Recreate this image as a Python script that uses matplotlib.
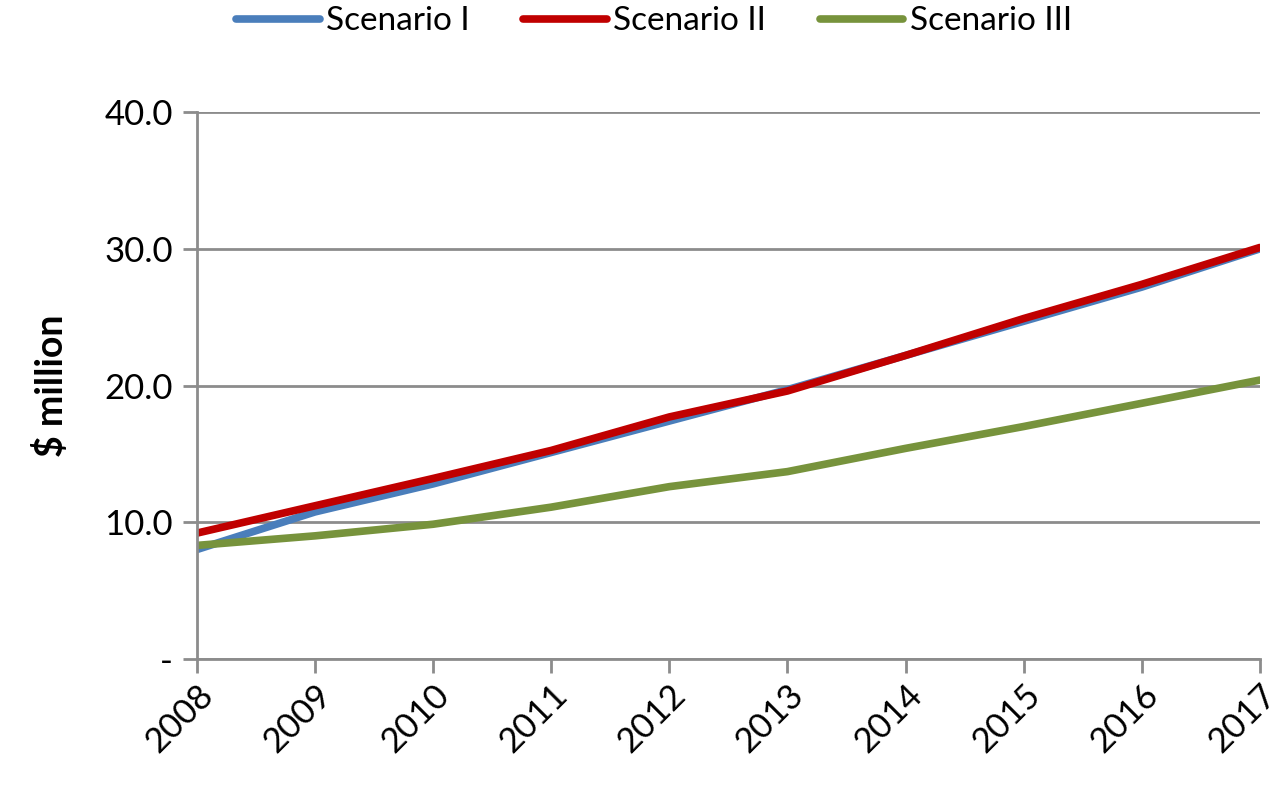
import matplotlib.pyplot as plt
import numpy as np

plt.rcParams['font.family'] = ['Lato', 'DejaVu Sans']

years = [2008, 2009, 2010, 2011, 2012, 2013, 2014, 2015, 2016, 2017]
scenario_1 = [8.0, 10.75, 12.8, 15.1, 17.4, 19.7, 22.2, 24.7, 27.2, 30.0]
scenario_2 = [9.2, 11.2, 13.2, 15.25, 17.7, 19.6, 22.2, 24.9, 27.4, 30.1]
scenario_3 = [8.3, 9.0, 9.85, 11.1, 12.6, 13.7, 15.4, 17.0, 18.7, 20.4]
labels = ['Scenario I', 'Scenario II', 'Scenario III']
colors = ['#4a7ebb', '#c00000', '#77933c']

fig = plt.figure(figsize=(12.7, 7.9), dpi=100)
ax = fig.add_axes([0.155, 0.166, 0.837, 0.692])

for vals, lab, col in zip([scenario_1, scenario_2, scenario_3], labels, colors):
    ax.plot(years, vals, color=col, lw=5.5, label=lab, solid_capstyle='round')

ax.set_xlim(2008, 2017)
ax.set_ylim(0, 40)
ax.set_yticks([0, 10, 20, 30, 40])
ax.set_yticklabels(['-', '10.0', '20.0', '30.0', '40.0'], fontsize=25)
ax.set_xticks(years)
ax.set_xticklabels([str(y) for y in years], fontsize=25, rotation=45,
                   ha='right', va='top', rotation_mode='anchor')
ax.yaxis.grid(True, color='#8c8c8c', lw=2)
ax.set_axisbelow(True)
for s in ['top', 'right']:
    ax.spines[s].set_visible(False)
for s in ['left', 'bottom']:
    ax.spines[s].set_color('#8c8c8c')
    ax.spines[s].set_linewidth(2)
ax.tick_params(axis='both', color='#8c8c8c', width=2, length=10, direction='out')
ax.tick_params(axis='y', pad=7)
ax.tick_params(axis='x', pad=4)

ax.set_ylabel('$ million', fontsize=27, fontweight='bold', labelpad=26)

fig.legend(loc='upper center', bbox_to_anchor=(0.515, 1.03), ncol=3, frameon=False,
           fontsize=24, handlelength=2.5, handletextpad=0.2, columnspacing=1.6)

fig.savefig('out.png', dpi=100)
